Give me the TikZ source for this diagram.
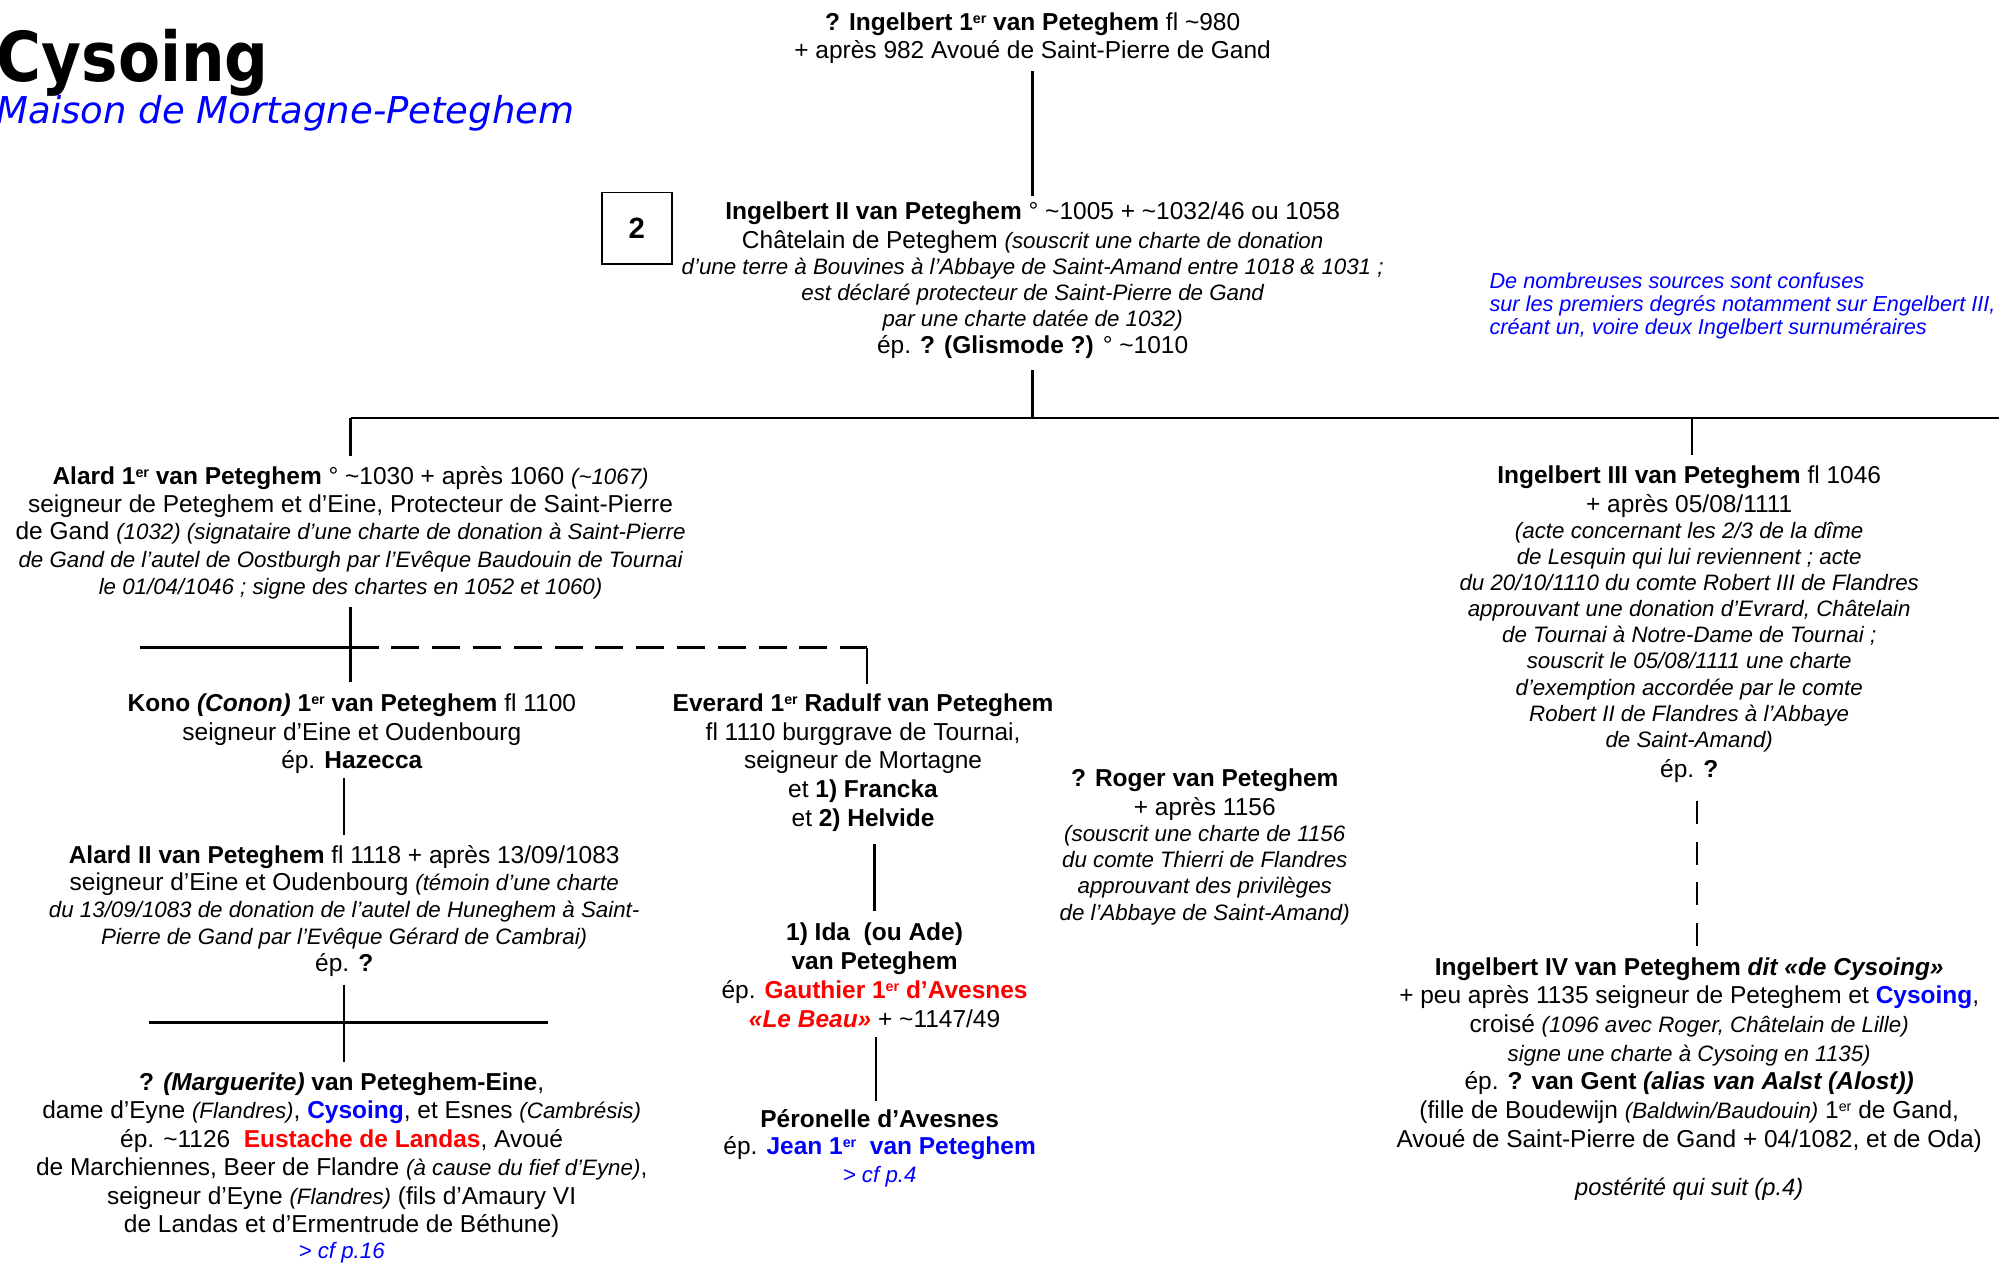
\documentclass[tikz,border=0pt]{standalone}
\usepackage{fontspec}
\setmainfont{Liberation Sans}
\newfontfamily\titlefont[FakeStretch=0.89]{DejaVu Sans}
\newfontfamily\subfont{DejaVu Sans}
\newcommand\ier{\raisebox{0.55ex}{\fontsize{5.6}{6}\selectfont er}}
\newcommand\ti{\textasciitilde}
\newcommand\smit[1]{{\fontsize{8.75}{10.25}\selectfont\itshape #1}}
\newcommand\blu[1]{\textcolor{blue}{#1}}
\newcommand\redd[1]{\textcolor{red}{#1}}
\newcommand\fsk[1]{\fontsize{9.6}{#1}\selectfont}
\begin{document}
\begin{tikzpicture}[x=0.5pt,y=-0.5pt,
  pers/.style={align=center, inner sep=0pt},
  ln/.style={line width=1pt},
  dashh/.style={line width=1pt, dash pattern=on 11pt off 5pt},
  dashv/.style={line width=1pt, dash pattern=on 9pt off 7pt}]
\useasboundingbox (0,0) rectangle (1568,990.6);

% title
\node[anchor=base west, inner sep=0pt] (title) at (-3,64) {\titlefont\bfseries\fontsize{27}{30}\selectfont Cysoing};
\node[anchor=base west, inner sep=0pt, text=blue] (subtitle) at (-3,97) {\subfont\itshape\fontsize{14.5}{16}\selectfont Maison de Mortagne-Peteghem};

\node[draw, line width=0.6pt, minimum width=27.5pt, minimum height=28pt, inner sep=0pt, font=\bfseries\fontsize{11.5}{12}\selectfont] (num) at (499.5,179) {2};

% persons
\node[pers, font=\fsk{11}] (ing1) at (810,30) {\textbf{? Ingelbert 1\ier{} van Peteghem} fl \ti980\\
+ après 982 Avoué de Saint-Pierre de Gand};

\node[pers, font=\fsk{10.25}] (ing2) at (810,219.5) {\textbf{Ingelbert II van Peteghem} ° \ti1005 + \ti1032/46 ou 1058\\[1.25pt]
Châtelain de Peteghem \smit{(souscrit une charte de donation}\\
\smit{d’une terre à Bouvines à l’Abbaye de Saint-Amand entre 1018 \& 1031 ;}\\
\smit{est déclaré protecteur de Saint-Pierre de Gand}\\
\smit{par une charte datée de 1032)}\\
ép. \textbf{? (Glismode ?)} ° \ti1010};

\node[anchor=west, align=left, inner sep=0pt, text=blue, font=\fontsize{8.5}{9}\selectfont\itshape] (note) at (1168,240) {De nombreuses sources sont confuses\\
sur les premiers degrés notamment sur Engelbert III,\\
créant un, voire deux Ingelbert surnuméraires};

\node[pers, font=\fsk{10.75}] (al1) at (275,418) {\textbf{Alard 1\ier{} van Peteghem} ° \ti1030 + après 1060 \smit{(\ti1067)}\\
seigneur de Peteghem et d’Eine, Protecteur de Saint-Pierre\\
de Gand \smit{(1032) (signataire d’une charte de donation à Saint-Pierre}\\
\smit{de Gand de l’autel de Oostburgh par l’Evêque Baudouin de Tournai}\\
\smit{le 01/04/1046 ; signe des chartes en 1052 et 1060)}};

\node[pers, font=\fsk{11.25}] (kono) at (276,575.5) {\textbf{Kono \textit{(Conon)} 1\ier{} van Peteghem} fl 1100\\
seigneur d’Eine et Oudenbourg\\
ép. \textbf{Hazecca}};

\node[pers, font=\fsk{10.6}] (al2) at (270,714.5) {\textbf{Alard II van Peteghem} fl 1118 + après 13/09/1083\\
seigneur d’Eine et Oudenbourg \smit{(témoin d’une charte}\\
\smit{du 13/09/1083 de donation de l’autel de Huneghem à Saint-}\\
\smit{Pierre de Gand par l’Evêque Gérard de Cambrai)}\\
ép. \textbf{?}};

\node[pers, font=\fsk{11.15}] (marg) at (268,916) {\textbf{? \textit{(Marguerite)} van Peteghem-Eine},\\
dame d’Eyne \smit{(Flandres)}, \blu{\textbf{Cysoing}}, et Esnes \smit{(Cambrésis)}\\
ép. \ti1126\ \ \redd{\textbf{Eustache de Landas}}, Avoué\\
de Marchiennes, Beer de Flandre \smit{(à cause du fief d’Eyne)},\\
seigneur d’Eyne \smit{(Flandres)} (fils d’Amaury VI\\
de Landas et d’Ermentrude de Béthune)\\[-1pt]
\blu{\smit{> cf p.16}}};

\node[pers, font=\fsk{11.25}] (ever) at (677,598) {\textbf{Everard 1\ier{} Radulf van Peteghem}\\
fl 1110 burggrave de Tournai,\\
seigneur de Mortagne\\
et \textbf{1) Francka}\\
et \textbf{2) Helvide}};

\node[pers, font=\fsk{11.3}] (ida) at (686,765) {\textbf{1) Ida\ \ (ou Ade)}\\
\textbf{van Peteghem}\\
ép. \redd{\textbf{Gauthier 1\ier{} d’Avesnes}}\\
\redd{\textbf{\textit{«Le Beau»}}} + \ti1147/49};

\node[pers, font=\fsk{10.75}] (pero) at (690,900.5) {\textbf{Péronelle d’Avesnes}\\
ép. \blu{\textbf{Jean 1\ier{}\ \ van Peteghem}}\\
\blu{\smit{> cf p.4}}};

\node[pers, font=\fsk{10.25}] (roger) at (945,664) {\textbf{? Roger van Peteghem}\\[1.25pt]
+ après 1156\\
\smit{(souscrit une charte de 1156}\\
\smit{du comte Thierri de Flandres}\\
\smit{approuvant des privilèges}\\
\smit{de l’Abbaye de Saint-Amand)}};

\node[pers, font=\fsk{10.25}] (ing3) at (1325,489.5) {\textbf{Ingelbert III van Peteghem} fl 1046\\[1pt]
+ après 05/08/1111\\
\smit{(acte concernant les 2/3 de la dîme}\\
\smit{de Lesquin qui lui reviennent ; acte}\\
\smit{du 20/10/1110 du comte Robert III de Flandres}\\
\smit{approuvant une donation d’Evrard, Châtelain}\\
\smit{de Tournai à Notre-Dame de Tournai ;}\\
\smit{souscrit le 05/08/1111 une charte}\\
\smit{d’exemption accordée par le comte}\\
\smit{Robert II de Flandres à l’Abbaye}\\
\smit{de Saint-Amand)}\\[1.5pt]
ép. \textbf{?}};

\node[pers, font=\fsk{11.25}] (ing4) at (1325,827.5) {\textbf{Ingelbert IV van Peteghem \textit{dit «de Cysoing»}}\\
+ peu après 1135 seigneur de Peteghem et \blu{\textbf{Cysoing}},\\
croisé \smit{(1096 avec Roger, Châtelain de Lille)}\\
\smit{signe une charte à Cysoing en 1135)}\\
ép. \textbf{? van Gent \textit{(alias van Aalst (Alost))}}\\
(fille de Boudewijn \smit{(Baldwin/Baudouin)} 1\ier{} de Gand,\\
Avoué de Saint-Pierre de Gand + 04/1082, et de Oda)};

\node[pers, font=\fontsize{9.3}{11}\selectfont\itshape] (post) at (1325,933) {postérité qui suit (p.4)};

% junction coordinates
\coordinate (j1) at (810,328);
\coordinate (jl) at (275,328);
\coordinate (jr) at (1568,328);
\coordinate (j3) at (1327,328);
\coordinate (m1) at (275,508);
\coordinate (m1l) at (110,508);
\coordinate (m1r) at (680,508);
\coordinate (xk) at (270,0);
\coordinate (m2) at (270,802);
\coordinate (m2l) at (117,802);
\coordinate (m2r) at (430,802);
\coordinate (xi) at (686,0);
\coordinate (xp) at (687,0);
\coordinate (x3) at (1331,0);

% connectors
\draw[ln, shorten <=2.5pt, shorten >=2pt] (ing1.south) -- (ing2.north);
\draw[ln, shorten <=4.5pt] (ing2.south) -- (j1);
\draw[ln] (jl) -- (jr);
\draw[ln, shorten >=4pt] (jl) -- (al1.north -| jl);
\draw[ln, shorten >=4pt] (j3) -- (ing3.north -| j3);
\draw[ln, shorten <=3pt, shorten >=4.5pt] (al1.south -| m1) -- (kono.north -| m1);
\draw[ln] (m1l) -- (m1);
\draw[dashh] (m1) -- (m1r);
\draw[ln, shorten >=3.5pt] (m1r) -- (ever.north -| m1r);
\draw[ln, shorten <=1.5pt, shorten >=4pt] (kono.south -| xk) -- (al2.north -| xk);
\draw[ln, shorten <=3pt, shorten >=4pt] (al2.south -| m2) -- (marg.north -| m2);
\draw[ln] (m2l) -- (m2r);
\draw[ln, shorten <=5pt, shorten >=4.5pt] (ever.south -| xi) -- (ida.north -| xi);
\draw[ln, shorten <=3.5pt, shorten >=3pt] (ida.south -| xp) -- (pero.north -| xp);
\draw[dashv, shorten <=7pt, shorten >=4.5pt] (ing3.south -| x3) -- (ing4.north -| x3);
\end{tikzpicture}
\end{document}
